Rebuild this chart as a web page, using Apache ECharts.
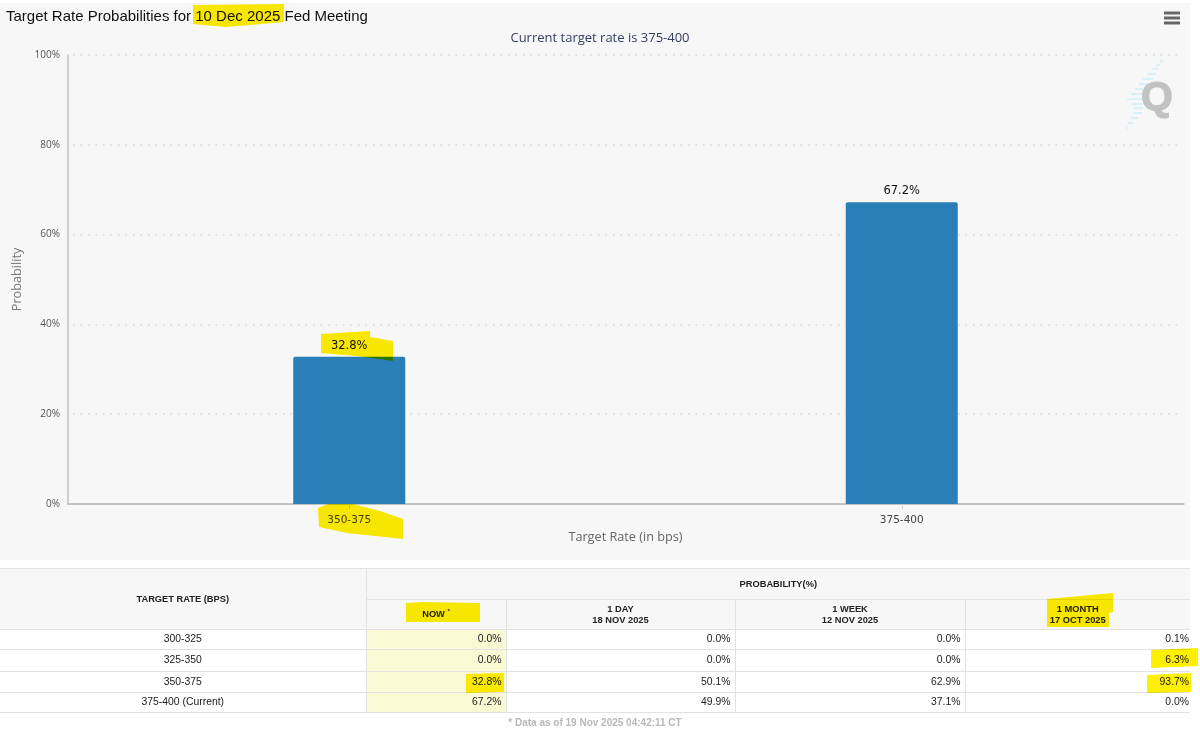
<!DOCTYPE html>
<html>
<head>
<meta charset="utf-8">
<script src="https://cdn.jsdelivr.net/npm/echarts@6/dist/echarts.min.js"></script>
<style>
html,body{margin:0;padding:0;background:#fff;width:1200px;height:730px;overflow:hidden}
#chart{position:absolute;left:0;top:0;width:1200px;height:730px}
#tbl{position:absolute;left:0;top:568px;width:1190px;border-collapse:collapse;table-layout:fixed;font-family:"Liberation Sans",Arial,sans-serif;font-size:10.4px;color:#222}
#tbl th{background:#f7f7f7;font-size:9.3px;font-weight:bold;color:#222;border:1px solid #e2e2e2;border-left:none;padding:0;text-align:center;line-height:11px}
#tbl td{background:#fff;border-top:1px solid #e2e2e2;border-bottom:1px solid #e2e2e2;border-right:1px solid #e2e2e2;padding:0 4px 2px 0;text-align:right}
#tbl td.l{text-align:center;padding:0 0 2px 0;font-weight:normal}
#tbl td.n{background:#f9f9d3}
#tbl th:last-child,#tbl td:last-child{border-right:none}
#tbl td:last-child{padding-right:1px}
#foot{position:absolute;left:0;top:717px;width:1190px;text-align:center;font:bold 10px "Liberation Sans",Arial,sans-serif;color:#b8b8b8}
#marks{position:absolute;left:0;top:0;width:1200px;height:730px;mix-blend-mode:multiply;pointer-events:none}
</style>
</head>
<body>
<div id="chart"></div>
<table id="tbl"></table>
<div id="foot"></div>
<svg id="marks" viewBox="0 0 1200 730"></svg>
<script>
const categories = ['350-375', '375-400'];
const nowValues = [32.8, 67.2];
const yTicks = [0, 20, 40, 60, 80, 100];

const tableRates = ['300-325', '325-350', '350-375', '375-400 (Current)'];
const tableNow = ['0.0%', '0.0%', '32.8%', '67.2%'];
const table1Day = ['0.0%', '0.0%', '50.1%', '49.9%'];
const table1Week = ['0.0%', '0.0%', '62.9%', '37.1%'];
const table1Month = ['0.1%', '6.3%', '93.7%', '0.0%'];
const footnote = '* Data as of 19 Nov 2025 04:42:11 CT';

const UI = '"Open Sans","Noto Sans",sans-serif';
const YEL = '#ffef00';

// Table
const rowH = [20, 22, 21, 20];
let html = '<colgroup><col style="width:366px"><col style="width:140px"><col style="width:229px"><col style="width:230px"><col style="width:225px"></colgroup>';
html += '<tr style="height:31px"><th rowspan="2">TARGET RATE (BPS)</th><th colspan="4">PROBABILITY(%)</th></tr>';
html += '<tr style="height:30px"><th>NOW <sup style="font-size:6px;line-height:0">*</sup></th><th>1 DAY<br>18 NOV 2025</th><th>1 WEEK<br>12 NOV 2025</th><th>1 MONTH<br>17 OCT 2025</th></tr>';
tableRates.forEach((r, i) => {
  html += `<tr style="height:${rowH[i]}px"><td class="l">${r}</td><td class="n">${tableNow[i]}</td><td>${table1Day[i]}</td><td>${table1Week[i]}</td><td>${table1Month[i]}</td></tr>`;
});
document.getElementById('tbl').innerHTML = html;
document.getElementById('foot').textContent = footnote;

// Highlighter strokes over the table
const tableStrokes = [
  '406,603 423,602 480,603 480,622 406,622',
  '466,674 504,673 504,692 466,693',
  '1047,599 1113,593 1113,612 1109,613 1109,627 1047,627',
  '1151,650 1198,648 1198,666 1151,668',
  '1147,675 1191,673 1191,692 1147,693'
];
document.getElementById('marks').innerHTML = tableStrokes.map(p => `<polygon points="${p}" fill="${YEL}"/>`).join('');

// Highlighter strokes over the chart
const chartStrokes = [
  [[193,5],[284,4],[284,22],[250,25],[225,27],[193,24]],
  [[321,334],[370,331],[370,337],[393,341],[393,361],[357,356],[321,353]],
  [[318,508],[328,504],[353,504],[380,511],[403,519],[403,539],[347,533],[319,527]]
];
// Watermark stripes
const wmStripes = [[1160,1163,61],[1156,1160,65],[1152,1158,69],[1147,1156,74],[1143,1153,79],[1139,1148,84],[1135,1143,89],[1131,1143,94],[1127,1143,99],[1131,1143,104],[1134,1143,108],[1134,1142,113],[1131,1138,118],[1128,1133,123],[1126,1128,128]];

const graphics = [
  {type:'rect', z:-10, silent:true, shape:{x:0,y:3,width:1190,height:557}, style:{fill:'#f7f7f7'}},
  ...wmStripes.map(s => ({type:'line', z:1, silent:true, shape:{x1:s[0],y1:s[2],x2:s[1],y2:s[2]}, style:{stroke:'#cdeefb',lineWidth:1.5}})),
  {type:'text', z:2, silent:true, x:1157, y:99, style:{text:'Q', fill:'#c2c2c2', stroke:'#c2c2c2', lineWidth:1.2, font:'bold 41px "Liberation Sans",Arial,sans-serif', textAlign:'center', textVerticalAlign:'middle'}},
  ...[13,18,23].map(y => ({type:'rect', z:2, silent:true, shape:{x:1164,y:y-1.5,width:16,height:3}, style:{fill:'#666'}})),
  ...chartStrokes.map(p => ({type:'polygon', z:100, silent:true, shape:{points:p}, style:{fill:YEL, blend:'multiply'}}))
];

const chart = echarts.init(document.getElementById('chart'), null, {renderer:'canvas', width:1200, height:730});
chart.setOption({
  animation:false,
  backgroundColor:'transparent',
  title:[
    {text:'Target Rate Probabilities for 10 Dec 2025 Fed Meeting', left:1, top:4, textStyle:{fontFamily:'"Liberation Sans",Arial,sans-serif', fontSize:15, fontWeight:'normal', color:'#111'}},
    {text:'Current target rate is 375-400', left:595, textAlign:'center', top:27, textStyle:{fontFamily:UI, fontSize:13, fontWeight:'normal', color:'#333d63'}}
  ],
  grid:[
    {left:73, top:55, width:1105, height:449},
    {left:68, top:55, width:1116, height:449}
  ],
  xAxis:[
    {type:'category', gridIndex:0, data:categories,
      axisLine:{show:false},
      axisTick:{show:true, alignWithLabel:true, length:5, lineStyle:{color:'#c8d0d8', width:1}},
      axisLabel:{margin:11, fontFamily:'"DejaVu Sans",sans-serif', fontSize:10.5, color:'#444'},
      name:'Target Rate (in bps)', nameLocation:'middle', nameGap:27,
      nameTextStyle:{fontFamily:UI, fontSize:12.7, color:'#666'}},
    {type:'category', gridIndex:1, data:categories, axisLine:{show:true, lineStyle:{color:'#b4b4b4', width:1.5}}, axisTick:{show:false}, axisLabel:{show:false}}
  ],
  yAxis:[
    {type:'value', gridIndex:0, min:yTicks[0], max:yTicks[yTicks.length-1], interval:yTicks[1]-yTicks[0], offset:5,
      axisLine:{show:true, lineStyle:{color:'#c0c0c0', width:1.5}},
      axisTick:{show:false},
      axisLabel:{formatter:'{value}%', margin:8, fontFamily:UI, fontSize:10, color:'#555'},
      splitLine:{show:true, lineStyle:{type:[1.5,6], color:'#d8d8d8', width:1.5}},
      name:'Probability', nameLocation:'middle', nameGap:44,
      nameTextStyle:{fontFamily:UI, fontSize:12.7, color:'#777'}},
    {type:'value', gridIndex:1, min:0, max:100, show:false}
  ],
  series:[{
    type:'bar', xAxisIndex:0, yAxisIndex:0, data:nowValues, barWidth:112,
    itemStyle:{color:'#2a7fb8', borderRadius:[2,2,0,0]},
    label:{show:true, position:'top', distance:5, formatter:p => p.value + '%', fontFamily:'"DejaVu Sans",sans-serif', fontSize:11.5, color:'#111'}
  }],
  graphic:graphics
});
</script>
</body>
</html>
